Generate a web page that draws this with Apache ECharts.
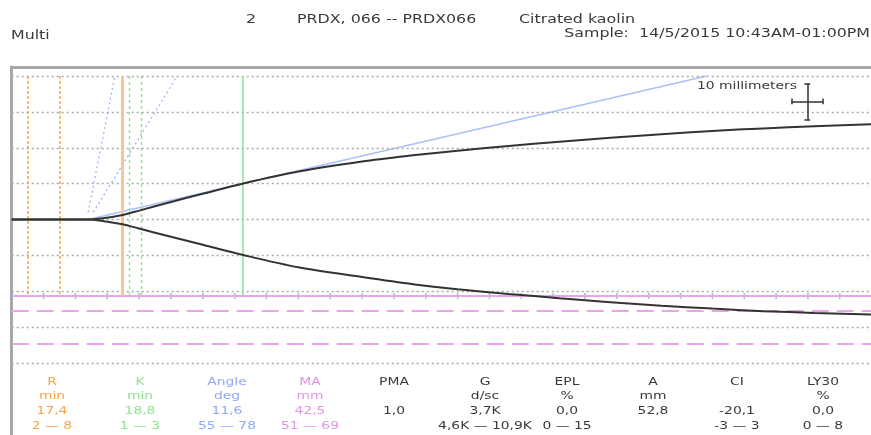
<!DOCTYPE html>
<html><head><meta charset="utf-8">
<script src="https://cdn.jsdelivr.net/npm/echarts@6/dist/echarts.min.js"></script>
<style>html,body{margin:0;padding:0;background:#fff}#c{width:871px;height:435px}</style>
</head><body><div id="c"></div>
<script>
// ---- data (time in minutes, amplitude in mm from centre) ----
const timeMin  = [0, 11.8, 14, 17.4, 20, 25, 30, 36.2, 45, 55, 63, 70, 78, 86, 94, 102, 110, 118, 126, 136];
const upperAmp = [0, 0, 0.3, 1.3, 2.5, 4.9, 7.2, 10.0, 13.4, 16.2, 17.9, 19.2, 20.5, 21.7, 22.8, 23.8, 24.7, 25.4, 26.0, 26.6];
const lowerAmp = [0, 0, -0.3, -1.3, -2.5, -4.8, -7.0, -9.8, -13.3, -16.0, -18.0, -19.4, -20.7, -21.9, -23.0, -24.0, -24.8, -25.5, -26.0, -26.5];
const gridLevels = [40, 30, 20, 10, 0, -10, -20, -30, -40];
const minuteTicks = [0,5,10,15,20,25,30,35,40,45,50,55,60,65,70,75,80,85,90,95,100,105,110,115,120,125,130];
const rRangeLines = [2.45, 7.5];
const rTime = 17.4;
const kRangeLines = [18.4, 20.4];
const kEndTime = 36.2;
const maHalf = 21.25;
const maRangeHalf = [25.5, 34.5];
const angleTangent = [[12.0, 0], [109.1, 40]];
const angleHigh = [[12.0, 2], [16.2, 40]];
const angleLow = [[12.8, 2], [26.0, 40]];

const headerNumber = '2';
const headerSample = 'PRDX, 066 -- PRDX066';
const headerReagent = 'Citrated kaolin';
const headerMode = 'Multi';
const headerTime = 'Sample:  14/5/2015 10:43AM-01:00PM';
const scaleLabel = '10 millimeters';

const paramNames  = ['R', 'K', 'Angle', 'MA', 'PMA', 'G', 'EPL', 'A', 'CI', 'LY30'];
const paramUnits  = ['min', 'min', 'deg', 'mm', '', 'd/sc', '%', 'mm', '', '%'];
const paramValues = ['17,4', '18,8', '11,6', '42,5', '1,0', '3,7K', '0,0', '52,8', '-20,1', '0,0'];
const paramRanges = ['2 \u2014 8', '1 \u2014 3', '55 \u2014 78', '51 \u2014 69', '', '4,6K \u2014 10,9K', '0 \u2014 15', '', '-3 \u2014 3', '0 \u2014 8'];

// ---- styling / layout ----
const ORANGE = '#f7a444', ORANGE_L = '#f9c590', GREEN = '#8de38d', BLUE = '#9bb5f7', PINK = '#e7a6e7', TXT = '#3a3a3a';
const colColors = [ORANGE, GREEN, '#8fa9f5', '#e293e2', TXT, TXT, TXT, TXT, TXT, TXT];
const colX = [52, 140, 227, 310, 394, 485, 567, 653, 737, 823];
const rowY = [382, 396.5, 411, 426];
const SX = 1.32;
const FONT = '"DejaVu Sans", Verdana, sans-serif';

function txt(text, x, y, size, color, align) {
  return { type: 'text', x: x, y: y, scaleX: SX, silent: true,
    style: { text: text, x: 0, y: 0, fill: color, font: size + 'px ' + FONT, textAlign: align || 'left', textVerticalAlign: 'middle' } };
}
const graphics = [
  txt(headerNumber, 251, 19.5, 12, TXT, 'center'),
  txt(headerSample, 297, 19.5, 12, TXT),
  txt(headerReagent, 519, 19.5, 12, TXT),
  txt(headerMode, 11, 36, 12, TXT),
  txt(headerTime, 870, 33.5, 12, TXT, 'right'),
  txt(scaleLabel, 697, 86, 10.5, TXT)
];
[paramNames, paramUnits, paramValues, paramRanges].forEach(function (row, r) {
  row.forEach(function (s, i) { if (s) graphics.push(txt(s, colX[i], rowY[r], 10.5, colColors[i], 'center')); });
});

const grayDot = { color: '#a9a9a9', width: 1.3, type: [2, 3] };
function vseg(t, style) { return [{ coord: [t, 40], lineStyle: style }, { coord: [t, -maHalf] }]; }
const vLines = []
  .concat(rRangeLines.map(t => vseg(t, { color: ORANGE, width: 1.5, type: [3, 2] })))
  .concat([vseg(rTime, { color: ORANGE_L, width: 3, type: 'solid' })])
  .concat(kRangeLines.map(t => vseg(t, { color: GREEN, width: 1.4, type: [3, 3] })))
  .concat([vseg(kEndTime, { color: GREEN, width: 1.5, type: 'solid' })]);

// scale bar (10 mm vertical, 5 min = 10 mm horizontal)
const sbT = 124.9, sbY = 32.9;
const barStyle = { color: '#333', width: 1.5, type: 'solid' };
const scaleBar = [
  [{ coord: [sbT, sbY - 5], lineStyle: barStyle }, { coord: [sbT, sbY + 5] }],
  [{ coord: [sbT - 2.5, sbY], lineStyle: barStyle }, { coord: [sbT + 2.5, sbY] }],
  [{ coord: [sbT - 0.45, sbY - 5], lineStyle: barStyle }, { coord: [sbT + 0.45, sbY - 5] }],
  [{ coord: [sbT - 0.45, sbY + 5], lineStyle: barStyle }, { coord: [sbT + 0.45, sbY + 5] }],
  [{ coord: [sbT - 2.5, sbY - 0.8], lineStyle: barStyle }, { coord: [sbT - 2.5, sbY + 0.8] }],
  [{ coord: [sbT + 2.5, sbY - 0.8], lineStyle: barStyle }, { coord: [sbT + 2.5, sbY + 0.8] }]
];

const ml = (data) => ({ symbol: ['none', 'none'], silent: true, label: { show: false }, animation: false, emphasis: { disabled: true }, data: data });

const option = {
  animation: false,
  grid: { left: 11.7, top: 67, width: 859.3, height: 371.6 },
  xAxis: { type: 'value', min: 0, max: 134.9, position: 'top',
    axisLine: { show: true, onZero: false, lineStyle: { color: '#a8a8a8', width: 3 } },
    axisTick: { show: false }, axisLabel: { show: false }, splitLine: { show: false } },
  yAxis: { type: 'value', min: -60, max: 42.5,
    axisLine: { show: true, onZero: false, lineStyle: { color: '#a8a8a8', width: 3 } },
    axisTick: { show: false }, axisLabel: { show: false }, splitLine: { show: false } },
  graphic: graphics,
  series: [
    { type: 'line', data: [], z: 1, silent: true,
      markLine: ml(gridLevels.map(v => ({ yAxis: v, lineStyle: grayDot }))
        .concat([{ yAxis: -maHalf, lineStyle: { color: PINK, width: 2, type: 'solid' } }])
        .concat(maRangeHalf.map(v => ({ yAxis: -v, lineStyle: { color: PINK, width: 2, type: [17, 8] } })))) },
    { type: 'line', data: [], z: 2, silent: true, markLine: ml(vLines) },
    { type: 'scatter', z: 3, silent: true, symbol: 'rect', symbolSize: [1.5, 6],
      itemStyle: { color: '#7ea6ee' }, data: minuteTicks.map(t => [t, -maHalf]) },
    { type: 'line', z: 3, silent: true, symbol: 'none', data: angleHigh, lineStyle: { color: BLUE, width: 1.3, type: [2, 3] } },
    { type: 'line', z: 3, silent: true, symbol: 'none', data: angleLow, lineStyle: { color: BLUE, width: 1.3, type: [2, 3] } },
    { type: 'line', z: 4, silent: true, symbol: 'none', data: angleTangent, lineStyle: { color: '#a9c1f8', width: 1.5 } },
    { type: 'line', z: 5, silent: true, symbol: 'none', smooth: 0.3, data: timeMin.map((t, i) => [t, upperAmp[i]]), lineStyle: { color: '#333', width: 2 } },
    { type: 'line', z: 5, silent: true, symbol: 'none', smooth: 0.3, data: timeMin.map((t, i) => [t, lowerAmp[i]]), lineStyle: { color: '#333', width: 2 } },
    { type: 'line', data: [], z: 6, silent: true, markLine: ml(scaleBar) }
  ]
};
echarts.init(document.getElementById('c')).setOption(option);
</script></body></html>
